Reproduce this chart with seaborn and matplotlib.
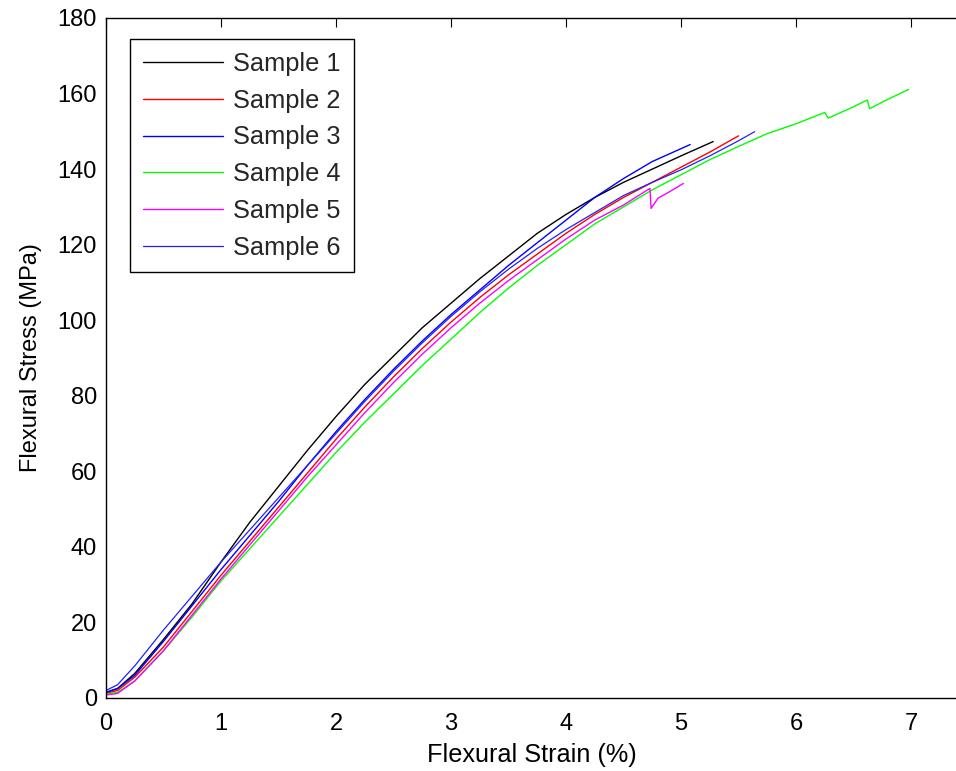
import matplotlib
matplotlib.use("Agg")
import matplotlib.pyplot as plt
import seaborn as sns
import pandas as pd

# ---- data ----
s1_strain = [0, 0.1, 0.25, 0.5, 0.75, 1.0, 1.25, 1.5, 1.75, 2.0, 2.25, 2.5, 2.75, 3.0,
             3.25, 3.5, 3.75, 4.0, 4.25, 4.5, 4.75, 5.0, 5.28]
s1_stress = [1.5, 2.5, 6.5, 15.5, 25, 36, 46.5, 56, 65.5, 74.5, 83, 90.5, 98, 104.5,
             111, 117, 123, 128, 132.5, 136.5, 140, 143.5, 147.3]

s2_strain = [0, 0.1, 0.25, 0.5, 0.75, 1.0, 1.25, 1.5, 1.75, 2.0, 2.25, 2.5, 2.75, 3.0,
             3.25, 3.5, 3.75, 4.0, 4.25, 4.5, 4.75, 5.0, 5.25, 5.5]
s2_stress = [1.2, 2, 5.5, 13.5, 23, 32.5, 41.5, 50.5, 59.5, 68.5, 77, 85, 92.5, 99.5,
             106, 112, 117.5, 123, 128, 132.5, 136.5, 140.5, 144.5, 148.8]

s3_strain = [0, 0.1, 0.25, 0.5, 0.75, 1.0, 1.25, 1.5, 1.75, 2.0, 2.25, 2.5, 2.75, 3.0,
             3.25, 3.5, 3.75, 4.0, 4.25, 4.5, 4.75, 5.08]
s3_stress = [1.5, 2.5, 6, 15, 24.5, 34, 43, 52, 61.5, 70.5, 79, 87, 94.5, 101.5,
             108, 114.5, 120.5, 126.5, 132.5, 137.5, 142, 146.5]

s4_strain = [0, 0.1, 0.25, 0.5, 0.75, 1.0, 1.25, 1.5, 1.75, 2.0, 2.25, 2.5, 2.75, 3.0,
             3.25, 3.5, 3.75, 4.0, 4.25, 4.5, 4.75, 5.0, 5.25, 5.5, 5.75, 6.0, 6.25,
             6.28, 6.5, 6.62, 6.64, 6.8, 6.98]
s4_stress = [1, 1.5, 4.5, 12.5, 21.5, 31, 39.5, 48, 56.5, 65, 73, 80.5, 88, 95,
             102, 108.5, 114.5, 120, 125.5, 130, 134.5, 138.5, 142.5, 146, 149.4, 152, 155,
             153.5, 156.5, 158.3, 156, 158.5, 161.1]

s5_strain = [0, 0.1, 0.25, 0.5, 0.75, 1.0, 1.25, 1.5, 1.75, 2.0, 2.25, 2.5, 2.75, 3.0,
             3.25, 3.5, 3.75, 4.0, 4.25, 4.5, 4.73, 4.74, 4.8, 4.9, 5.02]
s5_stress = [0.8, 1.2, 4.5, 12.5, 22, 31.5, 40.5, 49.5, 58.5, 67, 75.5, 83.5, 91, 98,
             104.5, 110.5, 116, 121.5, 126.5, 130.5, 134.9, 129.6, 132.3, 134, 136.2]

s6_strain = [0, 0.1, 0.25, 0.5, 0.75, 1.0, 1.25, 1.5, 1.75, 2.0, 2.25, 2.5, 2.75, 3.0,
             3.25, 3.5, 3.75, 4.0, 4.25, 4.5, 4.75, 5.0, 5.25, 5.5, 5.64]
s6_stress = [2, 3.5, 8.5, 18, 27, 36, 44.5, 53, 61.5, 70, 78.5, 86.5, 94, 101,
             107.5, 113.5, 119, 124, 128.5, 133, 136.5, 139.8, 143.5, 147.5, 149.9]

labels = ["Sample 1", "Sample 2", "Sample 3", "Sample 4", "Sample 5", "Sample 6"]
strains = [s1_strain, s2_strain, s3_strain, s4_strain, s5_strain, s6_strain]
stresses = [s1_stress, s2_stress, s3_stress, s4_stress, s5_stress, s6_stress]
colors = ["#000000", "#ff0000", "#0000ff", "#00ff00", "#ff00ff", "#2020ff"]
widths = [1.0, 1.0, 1.0, 1.0, 1.0, 0.9]

x_ticks = [0, 1, 2, 3, 4, 5, 6, 7]
y_ticks = [0, 20, 40, 60, 80, 100, 120, 140, 160, 180]

# ---- styling ----
sns.set_theme(style="white")
plt.rcParams["font.family"] = ["Liberation Sans", "DejaVu Sans"]

W, H = 956, 771
fig = plt.figure(figsize=(W / 100, H / 100), dpi=100)
ax = fig.add_axes([106 / W, (H - 698) / H, 852 / W, 680 / H])

for lab, xs, ys, c, lw in zip(labels, strains, stresses, colors, widths):
    df = pd.DataFrame({"strain": xs, "stress": ys})
    sns.lineplot(data=df, x="strain", y="stress", color=c, linewidth=lw,
                 label=lab, sort=False, estimator=None, ax=ax)

ax.set_xlim(0, 852 / 115)
ax.set_ylim(0, 180)
ax.set_xticks(x_ticks)
ax.set_yticks(y_ticks)
ax.tick_params(axis="both", direction="in", length=6.5, width=0.8, color="black",
               labelsize=17, labelcolor="black", top=True, right=False)
ax.tick_params(axis="x", pad=10.5)
ax.tick_params(axis="y", pad=6.5)
for sp in ax.spines.values():
    sp.set_color("black")
    sp.set_linewidth(1.0)
ax.spines["right"].set_visible(False)

ax.set_xlabel("Flexural Strain (%)", fontsize=18.2, color="black", labelpad=6)
ax.set_ylabel("Flexural Stress (MPa)", fontsize=17, color="black", labelpad=11)

leg = ax.legend(loc="upper left", bbox_to_anchor=(24 / 852, (698 - 39.3) / 680),
                borderaxespad=0, fontsize=18.3, handlelength=3.15, handletextpad=0.42,
                borderpad=0.5, labelspacing=0.5, fancybox=False, framealpha=1,
                edgecolor="black")
leg.get_frame().set_linewidth(1.0)

fig.savefig("out.png", dpi=100, facecolor="white")
